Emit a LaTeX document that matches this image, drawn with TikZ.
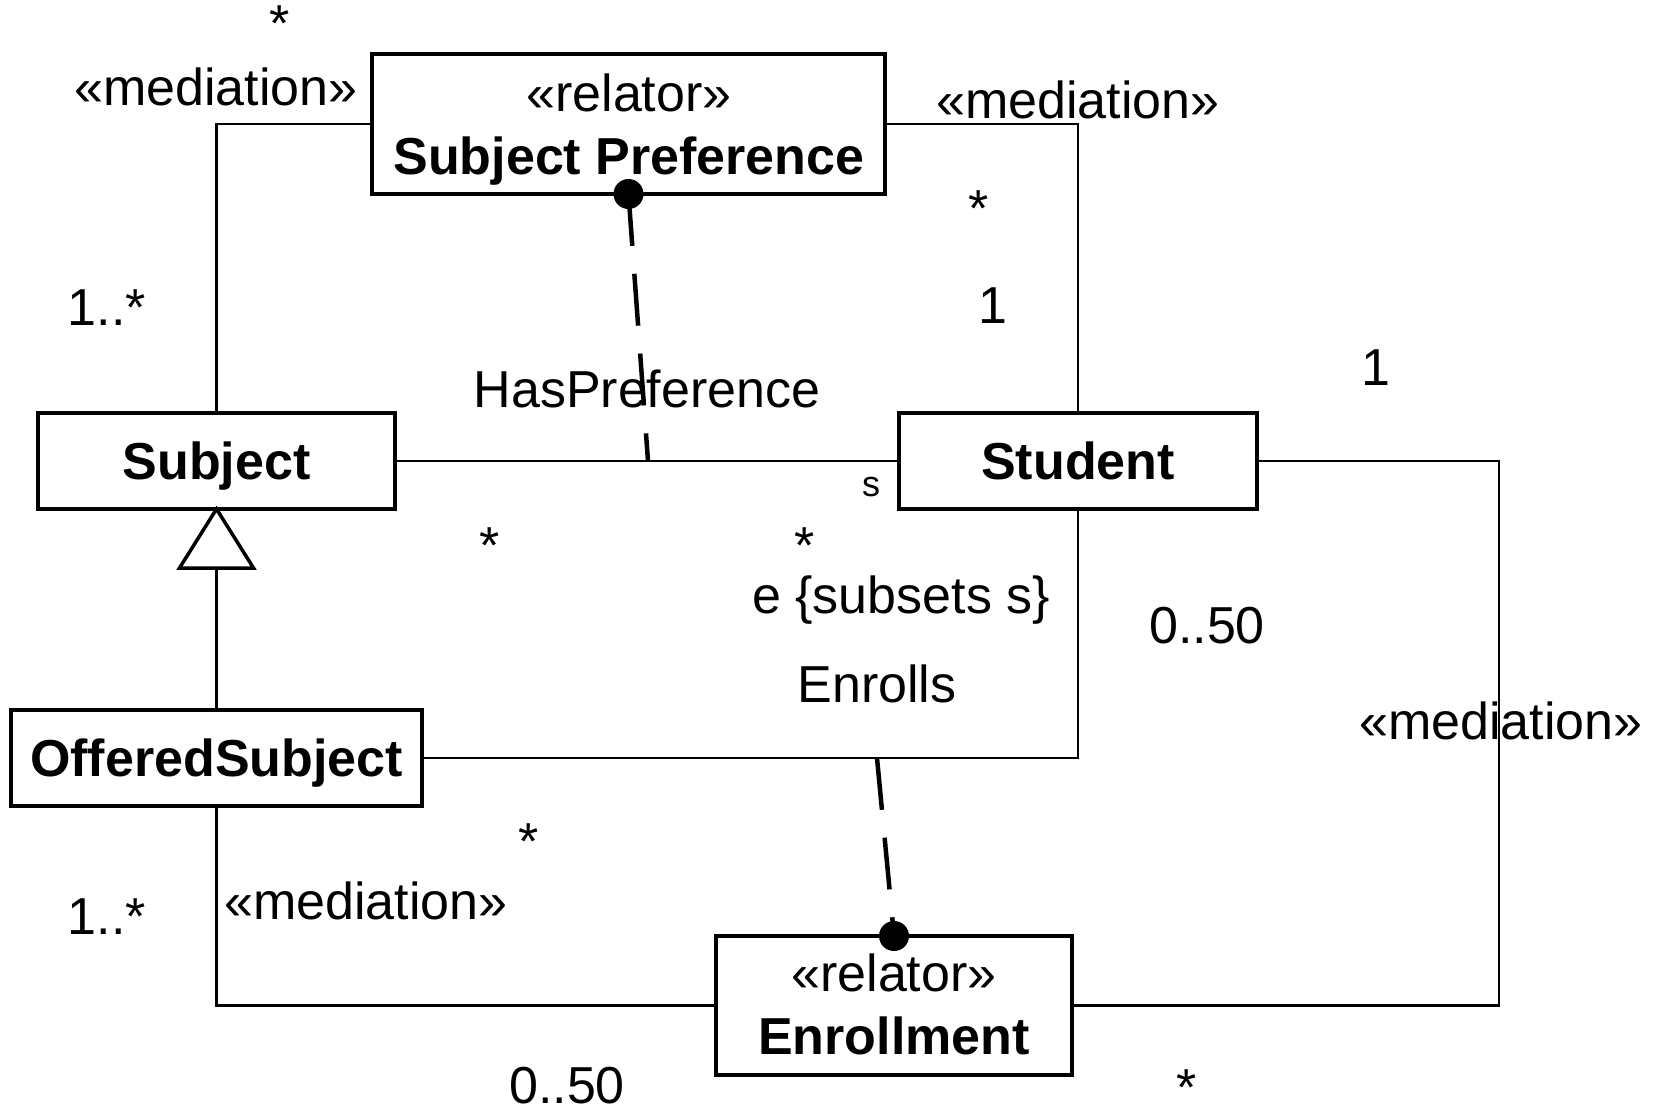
\documentclass[tikz,border=0pt]{standalone}
\usepackage{fontspec}
\setmainfont{Liberation Sans}
\usetikzlibrary{calc}
\begin{document}
\begin{tikzpicture}[x=1pt,y=-1pt,
  every node/.style={inner sep=0pt, outer sep=0pt, font=\fontsize{52}{62}\selectfont},
  classbox/.style={draw, line width=4pt, text depth=0pt, font=\fontsize{52}{62}\selectfont\bfseries},
  stereo/.style={anchor=center},
  cname/.style={anchor=center, text depth=0pt, font=\fontsize{52}{62}\selectfont\bfseries},
  link/.style={line width=2.2pt},
  dep/.style={line width=4.5pt, dash pattern=on 52pt off 28pt},
  lbl/.style={anchor=center},
  small/.style={font=\fontsize{36}{40}\selectfont}]
\useasboundingbox (0,0) rectangle (1656,1117);

% classes
\node[classbox, minimum width=513pt, minimum height=140pt] (sp) at (628.5,124) {};
\node[stereo] (sp-st) at (629,93) {«relator»};
\node[cname] (sp-name) at (629,156) {Subject Preference};
\node[classbox, minimum width=357pt, minimum height=96pt] (subject) at (216.5,461) {Subject};
\node[classbox, minimum width=358pt, minimum height=96pt] (student) at (1078,461) {Student};
\node[classbox, minimum width=411pt, minimum height=96pt] (offered) at (216.5,758) {OfferedSubject};
\node[classbox, minimum width=356pt, minimum height=139pt] (enroll) at (894,1005.5) {};
\node[stereo] (en-st) at (894,973) {«relator»};
\node[cname] (en-name) at (894,1036) {Enrollment};

% associations
\draw[link] (sp.west) -| (subject.north);
\draw[link] (sp.east) -| (student.north);
\draw[link] (subject.east) -- (student.west);
\draw[link] (offered.east) -| (student.south);
\draw[link] (offered.south) |- (enroll.west);
\coordinate (rc) at (1499,0);
\draw[link] (student.east) -- (rc |- student.east) -- (rc |- enroll.east) -- (enroll.east);

% generalization
\coordinate (tb) at ($(subject.south)+(0,59)$);
\draw[link] (offered.north) -- (tb);
\draw[line width=3.5pt, line join=miter, fill=white] (subject.south) -- ($(tb)+(-37,0)$) -- ($(tb)+(37,0)$) -- cycle;

% relator links to material associations
\coordinate (hp) at (648,461);
\coordinate (en) at (877,758);
\draw[dep] (sp.south) -- (hp);
\fill (sp.south) circle (15pt);
\draw[dep] (en) -- (enroll.north);
\fill (enroll.north) circle (15pt);

% labels
\node[lbl] (m1) at (216,87) {«mediation»};
\node[lbl] (m1s) at (280,24) {*};
\node[lbl] (m1a) at (107,308) {1..*};
\node[lbl] (m2) at (1078,100) {«mediation»};
\node[lbl] (m2s) at (979,209) {*};
\node[lbl] (m2a) at (993,306) {1};
\node[lbl] (hpl) at (647,389) {HasPreference};
\node[lbl, small] (sl) at (871,487) {s};
\node[lbl] (s1) at (490,546) {*};
\node[lbl] (s2) at (805,546) {*};
\node[lbl] (el) at (901,600) {e \{subsets s\}};
\node[lbl] (enl) at (877,684) {Enrolls};
\node[lbl] (m3a) at (1376,368) {1};
\node[lbl] (m3b) at (1207,626) {0..50};
\node[lbl] (m3) at (1501,721) {«mediation»};
\node[lbl] (m3s) at (1187,1088) {*};
\node[lbl] (m4s) at (529,842) {*};
\node[lbl] (m4) at (366,901) {«mediation»};
\node[lbl] (m4a) at (107,917) {1..*};
\node[lbl] (m4b) at (567,1086) {0..50};
\end{tikzpicture}
\end{document}
